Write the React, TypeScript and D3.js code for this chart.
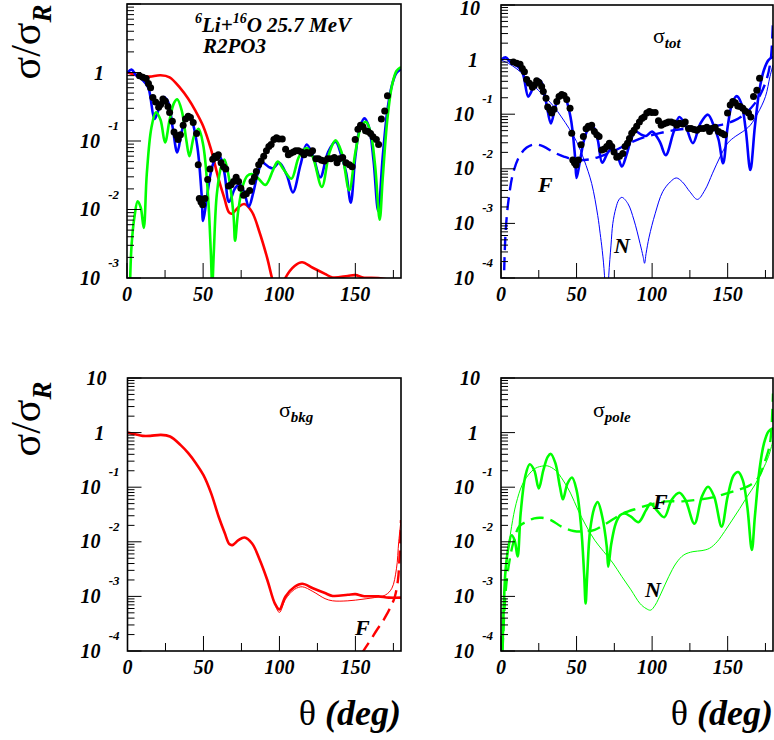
import * as d3 from 'd3';
import React from 'react';

type Pt = [number, number];

// measured angular distribution (theta in deg, sigma/sigma_R)
const expTheta = [
  8.2, 10.4, 12.6, 14.1, 15.5, 17.0, 18.8, 20.8, 22.1, 23.6, 25.2, 26.9, 28.0, 29.8, 30.9, 32.5,
  33.6, 35.1, 36.9, 38.4, 40.2, 41.7, 43.5, 45.7, 46.8, 47.5, 48.6, 49.7, 51.2, 53.0, 54.5, 56.3,
  57.8, 58.9, 60.0, 61.8, 63.4, 64.9, 66.7, 68.4, 70.0, 71.7, 73.3, 74.8, 76.6, 78.4, 80.6, 82.1,
  83.7, 85.0, 86.5, 88.1, 89.8, 91.6, 93.2, 94.7, 96.5, 98.2, 99.8, 102.0, 104.2, 106.0, 107.5,
  109.3, 110.8, 112.6, 114.6, 116.3, 118.1, 120.3, 121.9, 124.1, 125.8, 127.8, 129.6, 131.8, 134.0,
  136.2, 138.0, 139.5, 141.7, 143.9, 146.1, 147.9, 149.9, 151.7, 153.4, 155.0, 156.7, 158.3, 160.0,
  161.6, 163.8, 165.3, 167.1, 169.3, 171.1,
];
const expSigma = [
  0.9, 0.855, 0.82, 0.69, 0.6, 0.43, 0.37, 0.31, 0.34, 0.41, 0.38, 0.32, 0.26, 0.195, 0.135, 0.12,
  0.105, 0.123, 0.17, 0.21, 0.23, 0.22, 0.186, 0.129, 0.045, 0.0145, 0.0129, 0.0117, 0.0145, 0.0275,
  0.039, 0.054, 0.06, 0.0575, 0.063, 0.048, 0.042, 0.039, 0.022, 0.023, 0.0257, 0.0295, 0.0257,
  0.0204, 0.0162, 0.017, 0.019, 0.0257, 0.0295, 0.036, 0.045, 0.051, 0.06, 0.072, 0.083, 0.089,
  0.105, 0.112, 0.107, 0.107, 0.076, 0.063, 0.066, 0.069, 0.072, 0.072, 0.069, 0.063, 0.068, 0.066,
  0.072, 0.055, 0.055, 0.0525, 0.051, 0.055, 0.055, 0.0575, 0.048, 0.055, 0.0575, 0.048, 0.045,
  0.042, 0.105, 0.148, 0.17, 0.162, 0.141, 0.138, 0.129, 0.115, 0.105, 0.089, 0.21, 0.275, 0.457,
];

// sigma_tot : full, near-side (N), far-side (F)
const totFull: Pt[] = [
  [0, 0.98], [3, 1.1], [6, 0.91], [10, 0.79], [14, 0.6], [18, 0.21], [20, 0.257], [24, 0.437],
  [27, 0.372], [30, 0.158], [33, 0.068], [36, 0.138], [39, 0.224], [42, 0.209], [46, 0.089],
  [49, 0.0166], [50, 0.0068], [52, 0.0126], [55, 0.034], [58, 0.055], [61, 0.059], [64, 0.034],
  [67, 0.0129], [71, 0.0204], [74, 0.0234], [77, 0.0178], [80, 0.011], [83, 0.0178], [86, 0.034],
  [89, 0.048], [93, 0.042], [96, 0.04], [100, 0.048], [105, 0.0316], [109, 0.0178], [114, 0.045],
  [118, 0.089], [122, 0.063], [127, 0.0295], [132, 0.068], [137, 0.098], [141, 0.059], [144, 0.034],
  [147, 0.0126], [150, 0.059], [153, 0.158], [156, 0.214], [159, 0.158], [162, 0.051], [165, 0.0095],
  [168, 0.059], [171, 0.275], [174, 0.646], [177, 0.98], [180, 1.12],
];
const totNear: Pt[] = [
  [0, 0.98], [5, 0.85], [10, 0.69], [15, 0.525], [20, 0.37], [25, 0.27], [30, 0.195], [35, 0.138],
  [40, 0.089], [45, 0.055], [50, 0.0316], [55, 0.0145], [60, 0.0054], [64, 0.0014], [65.6, 6.6e-4],
  [67, 3.2e-4], [68.5, 1.1e-4], [69.9, 1e-5], [71.3, 1.1e-4], [72.8, 4e-4], [74, 1e-3], [76, 1.9e-3],
  [78, 2.7e-3], [80, 3e-3], [84, 2.3e-3], [88, 1.15e-3], [92, 4.3e-4], [94, 2.5e-4], [95, 1.86e-4],
  [96, 2.8e-4], [98, 5.6e-4], [102, 1.5e-3], [107, 3.8e-3], [112, 5.75e-3], [116, 6.8e-3],
  [120, 5.75e-3], [125, 3.8e-3], [130, 2.75e-3], [135, 4.1e-3], [140, 8.3e-3], [145, 0.0166],
  [150, 0.0295], [155, 0.039], [160, 0.048], [165, 0.063], [170, 0.105], [175, 0.21], [178, 0.49],
  [180, 0.8],
];
const totFar: Pt[] = [
  [1.8, 6e-5], [3, 6.6e-4], [5, 2.7e-3], [8, 8.3e-3], [12, 0.0166], [17, 0.0245], [22, 0.028],
  [28, 0.0257], [35, 0.02], [42, 0.0166], [50, 0.0145], [58, 0.0148], [65, 0.0166], [75, 0.0214],
  [85, 0.0295], [95, 0.038], [105, 0.045], [115, 0.051], [125, 0.055], [135, 0.0575], [145, 0.063],
  [155, 0.078], [162, 0.105], [168, 0.158], [172, 0.24], [176, 0.457], [178.5, 1.0], [180, 5.4],
];

// sigma_bkg : full, near-side, far-side
const bkgFull: Pt[] = [
  [0, 1.0], [5, 0.93], [10, 0.87], [15, 0.87], [22, 0.91], [28, 0.85], [35, 0.59], [40, 0.42],
  [45, 0.275], [50, 0.166], [55, 0.078], [60, 0.0288], [64, 0.0145], [67, 9.1e-3], [69, 8.7e-3],
  [73, 0.0107], [77, 0.012], [82, 9.3e-3], [87, 4.7e-3], [92, 2.0e-3], [97, 7.4e-4], [100, 5.75e-4],
  [104, 1.0e-3], [110, 1.5e-3], [115, 1.7e-3], [122, 1.41e-3], [130, 1.15e-3], [135, 1.02e-3],
  [145, 1.07e-3], [150, 1.1e-3], [155, 1.02e-3], [165, 1.0e-3], [172, 9.5e-4], [180, 9.5e-4],
];
const bkgNear: Pt[] = [
  [0, 1.0], [5, 0.93], [10, 0.87], [15, 0.87], [22, 0.91], [28, 0.85], [35, 0.59], [40, 0.42],
  [45, 0.275], [50, 0.166], [55, 0.078], [60, 0.0288], [64, 0.0145], [67, 9.1e-3], [69, 8.7e-3],
  [73, 0.0107], [77, 0.012], [82, 9.3e-3], [87, 4.7e-3], [92, 2.0e-3], [97, 7.1e-4], [100, 5.1e-4],
  [104, 8.9e-4], [110, 1.35e-3], [115, 1.5e-3], [122, 1.23e-3], [130, 9.1e-4], [135, 8.3e-4],
  [145, 8.3e-4], [155, 8.9e-4], [165, 9.8e-4], [170, 1.07e-3], [174, 1.41e-3], [177, 3.2e-3],
  [178.5, 0.01], [180, 0.025],
];
const bkgFar: Pt[] = [
  [154, 8.9e-5], [160, 1.6e-4], [164, 2.4e-4], [168, 3.5e-4], [171, 4.9e-4], [174, 7.1e-4],
  [176, 1.0e-3], [178, 2.0e-3], [179, 5.0e-3], [180, 0.025],
];

// sigma_pole : full, near-side, far-side
const poleFull: Pt[] = [
  [0.3, 6e-5], [1, 1.26e-4], [2, 8.5e-4], [3, 3.0e-3], [5, 8.1e-3], [7, 0.0132], [9, 0.0107],
  [11, 5.4e-3], [13, 0.033], [16, 0.155], [19, 0.263], [22, 0.204], [25, 0.095], [28, 0.204],
  [31, 0.363], [33, 0.407], [36, 0.275], [39, 0.102], [41, 0.06], [44, 0.117], [47, 0.151],
  [50, 0.089], [53, 0.019], [55, 2.6e-3], [56, 7.4e-4], [57, 2.3e-3], [59, 0.0166], [62, 0.0437],
  [64, 0.0537], [67, 0.0288], [70, 8.1e-3], [71, 3.5e-3], [73, 9.3e-3], [76, 0.0219], [79, 0.031],
  [82, 0.033], [86, 0.0288], [91, 0.0229], [96, 0.038], [99, 0.05], [103, 0.038], [108, 0.0282],
  [113, 0.059], [118, 0.079], [122, 0.059], [128, 0.0214], [133, 0.068], [137, 0.102], [141, 0.068],
  [146, 0.019], [150, 0.068], [154, 0.166], [157, 0.19], [160, 0.135], [163, 0.0437], [166, 7.1e-3],
  [168, 0.0288], [171, 0.204], [174, 0.63], [177, 1.05], [180, 1.2],
];
const poleNear: Pt[] = [
  [0.3, 6e-5], [2, 1.15e-3], [4, 4.7e-3], [7, 0.019], [10, 0.05], [14, 0.11], [18, 0.166],
  [23, 0.224], [28, 0.245], [31, 0.245], [36, 0.204], [41, 0.135], [46, 0.078], [51, 0.038],
  [56, 0.0204], [62, 0.0107], [68, 6.6e-3], [74, 4.1e-3], [80, 2.3e-3], [86, 1.32e-3], [92, 7.4e-4],
  [96, 6.0e-4], [99, 5.6e-4], [102, 6.9e-4], [106, 1.15e-3], [111, 2.3e-3], [116, 4.1e-3],
  [121, 5.75e-3], [127, 6.6e-3], [133, 6.9e-3], [138, 7.6e-3], [143, 0.01], [148, 0.0155],
  [153, 0.025], [158, 0.0407], [163, 0.068], [168, 0.11], [173, 0.204], [177, 0.363], [180, 0.72],
];
const poleFar: Pt[] = [
  [1, 1e-4], [3, 1.15e-3], [5, 3.5e-3], [8, 9.3e-3], [12, 0.019], [17, 0.0234], [22, 0.0269],
  [27, 0.0275], [33, 0.025], [40, 0.019], [48, 0.0158], [55, 0.0155], [62, 0.0166], [70, 0.0219],
  [80, 0.0324], [90, 0.0407], [100, 0.049], [110, 0.055], [120, 0.055], [130, 0.059], [140, 0.065],
  [150, 0.078], [158, 0.091], [165, 0.11], [170, 0.145], [175, 0.316], [178, 0.63], [180, 5.2],
];

const xTicks = [0, 50, 100, 150];
const FONT = '"Liberation Serif", "Times New Roman", serif';
const BLUE = '#0000ff';
const RED = '#ff0000';
const GREEN = '#00ff00';

interface Curve {
  data: Pt[];
  color: string;
  width: number;
  dash?: string;
}

interface PanelProps {
  id: string;
  x0: number;
  x1: number;
  y0: number;
  y1: number;
  yMin: number;
  topLabel: boolean;
  curves: Curve[];
  points?: boolean;
  children?: React.ReactNode;
}

function Panel({ id, x0, x1, y0, y1, yMin, topLabel, curves, points, children }: PanelProps) {
  const x = d3.scaleLinear().domain([0, 180]).range([x0, x1]);
  const y = d3.scaleLog().domain([yMin, 10]).range([y1, y0]);
  const line = d3
    .line<Pt>()
    .x((d) => x(d[0]))
    .y((d) => y(d[1]))
    .curve(d3.curveCatmullRom.alpha(0.5));

  const kMin = Math.round(Math.log10(yMin));
  const majors = d3.range(kMin, 2);
  const minors: number[] = [];
  majors.slice(0, -1).forEach((k) => {
    for (let m = 2; m <= 9; m++) minors.push(m * Math.pow(10, k));
  });

  return (
    <g>
      <defs>
        <clipPath id={id}>
          <rect x={x0} y={y0} width={x1 - x0} height={y1 - y0} />
        </clipPath>
      </defs>
      <g clipPath={`url(#${id})`}>
        {curves.map((c, i) => (
          <path
            key={i}
            d={line(c.data) || ''}
            fill="none"
            stroke={c.color}
            strokeWidth={c.width}
            strokeDasharray={c.dash}
          />
        ))}
        {points &&
          expTheta.map((t, i) => (
            <circle key={i} cx={x(t)} cy={y(expSigma[i])} r={3.5} fill="#000" />
          ))}
      </g>
      {/* ticks */}
      {majors.map((k) => (
        <line key={'M' + k} x1={x0} x2={x0 + 14} y1={y(Math.pow(10, k))} y2={y(Math.pow(10, k))} stroke="#000" />
      ))}
      {minors.map((v, i) => (
        <line key={'m' + i} x1={x0} x2={x0 + 7} y1={y(v)} y2={y(v)} stroke="#000" />
      ))}
      {xTicks.map((t) => (
        <line key={'X' + t} x1={x(t)} x2={x(t)} y1={y1} y2={y1 - 15} stroke="#000" />
      ))}
      {[25, 75, 125, 175].map((t) => (
        <line key={'x' + t} x1={x(t)} x2={x(t)} y1={y1} y2={y1 - 8} stroke="#000" />
      ))}
      <rect x={x0} y={y0} width={x1 - x0} height={y1 - y0} fill="none" stroke="#000" strokeWidth={1.6} />
      {/* tick labels */}
      <g fontFamily={FONT} fontWeight="bold" fontStyle="italic" fill="#000">
        {xTicks.map((t) => (
          <text key={t} x={x(t)} y={y1 + 23} fontSize={20} textAnchor="middle">
            {t}
          </text>
        ))}
        {majors.map((k) => {
          const yy = y(Math.pow(10, k));
          if (k === 0)
            return (
              <text key={k} x={x0 - 23} y={yy + 7} fontSize={20} textAnchor="end">
                1
              </text>
            );
          if (k === 1)
            return topLabel ? (
              <text key={k} x={x0 - 21} y={Math.max(yy + 7, 15)} fontSize={20} textAnchor="end">
                10
              </text>
            ) : null;
          return (
            <g key={k}>
              <text x={x0 - 27} y={yy + 6.5} fontSize={20} textAnchor="end">
                10
              </text>
              <text x={x0 - 8} y={yy - 11} fontSize={13} textAnchor="end">
                {k}
              </text>
            </g>
          );
        })}
      </g>
      {children}
    </g>
  );
}

const lbl = { fontFamily: FONT, fontWeight: 'bold' as const, fontStyle: 'italic' as const };

function Sigma({ x, y, sub }: { x: number; y: number; sub: string }) {
  return (
    <text x={x} y={y} fontFamily={FONT} fontSize={22} fill="#000">
      σ
      <tspan dy={5} fontSize={15} fontStyle="italic" fontWeight="bold">
        {sub}
      </tspan>
    </text>
  );
}

function YTitle({ cy }: { cy: number }) {
  return (
    <text transform={`translate(40,${cy}) rotate(-90)`} fontFamily={FONT} fontSize={42} textAnchor="middle" fill="#000">
      σ/σ
      <tspan dy={11} fontSize={27} fontStyle="italic" fontWeight="bold">
        R
      </tspan>
    </text>
  );
}

function XTitle({ xr }: { xr: number }) {
  return (
    <text x={xr} y={725} fontFamily={FONT} fontSize={36} textAnchor="end" fill="#000">
      θ{' '}
      <tspan fontStyle="italic" fontWeight="bold">
        (deg)
      </tspan>
    </text>
  );
}

export default function App() {
  return (
    <svg width={774} height={740} style={{ position: 'absolute', left: 0, top: 0, background: '#fff' }}>
      <rect width={774} height={740} fill="#fff" />
      <Panel
        id="cTL"
        x0={127}
        x1={401}
        y0={4}
        y1={278}
        yMin={1e-3}
        topLabel={false}
        points
        curves={[
          { data: bkgFull, color: RED, width: 2.6 },
          { data: totFull, color: BLUE, width: 2.6 },
          { data: poleFull, color: GREEN, width: 2.6 },
        ]}
      >
        <text x={195} y={32} fontSize={21} {...lbl}>
          <tspan fontSize={14} dy={-9}>6</tspan>
          <tspan dy={9}>Li+</tspan>
          <tspan fontSize={14} dy={-9}>16</tspan>
          <tspan dy={9}>O 25.7 MeV</tspan>
        </text>
        <text x={203} y={53} fontSize={21} {...lbl}>
          R2PO3
        </text>
      </Panel>
      <Panel
        id="cTR"
        x0={501}
        x1={773}
        y0={5}
        y1={278}
        yMin={1e-4}
        topLabel
        points
        curves={[
          { data: totNear, color: BLUE, width: 1 },
          { data: totFar, color: BLUE, width: 2.4, dash: '13,7' },
          { data: totFull, color: BLUE, width: 2.6 },
        ]}
      >
        <Sigma x={653} y={43} sub="tot" />
        <text x={538} y={192} fontSize={22} {...lbl}>F</text>
        <text x={614} y={253} fontSize={22} {...lbl}>N</text>
      </Panel>
      <Panel
        id="cBL"
        x0={127.5}
        x1={401}
        y0={378}
        y1={651}
        yMin={1e-4}
        topLabel
        curves={[
          { data: bkgNear, color: RED, width: 1 },
          { data: bkgFar, color: RED, width: 2.4, dash: '13,7' },
          { data: bkgFull, color: RED, width: 2.6 },
        ]}
      >
        <Sigma x={279} y={417} sub="bkg" />
        <text x={355} y={635} fontSize={22} {...lbl}>F</text>
      </Panel>
      <Panel
        id="cBR"
        x0={501}
        x1={773}
        y0={378}
        y1={651}
        yMin={1e-4}
        topLabel
        curves={[
          { data: poleNear, color: GREEN, width: 1 },
          { data: poleFar, color: GREEN, width: 2.4, dash: '13,7' },
          { data: poleFull, color: GREEN, width: 2.6 },
        ]}
      >
        <Sigma x={593} y={417} sub="pole" />
        <text x={653} y={509} fontSize={22} {...lbl}>F</text>
        <text x={645} y={597} fontSize={22} {...lbl}>N</text>
      </Panel>
      <YTitle cy={42} />
      <YTitle cy={419} />
      <XTitle xr={401} />
      <XTitle xr={773} />
    </svg>
  );
}
